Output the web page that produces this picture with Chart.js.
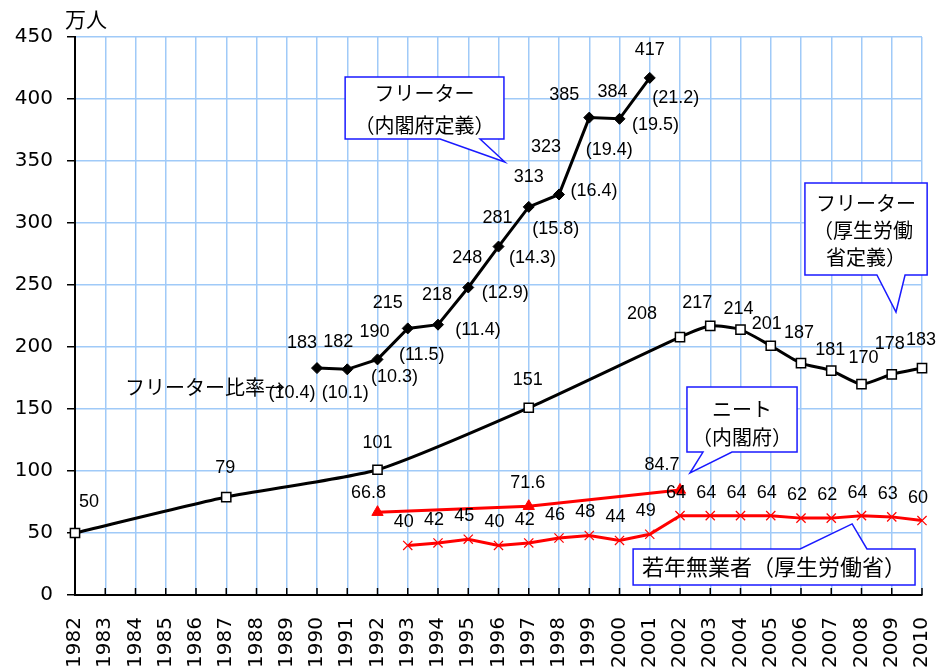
<!DOCTYPE html>
<html><head><meta charset="utf-8">
<script src="https://cdn.jsdelivr.net/npm/chart.js@4.4.0/dist/chart.umd.min.js"></script>
<style>html,body{margin:0;padding:0;background:#fff;}canvas{display:block;}</style>
</head><body>
<canvas id="c" width="946" height="668"></canvas>
<script>
// ---- data ----
const years = ['1982','1983','1984','1985','1986','1987','1988','1989','1990','1991','1992','1993','1994','1995','1996','1997','1998','1999','2000','2001','2002','2003','2004','2005','2006','2007','2008','2009','2010'];
// フリーター（内閣府定義）万人
const freeterCabinet = [null,null,null,null,null,null,null,null,183,182,190,215,218,248,281,313,323,385,384,417,null,null,null,null,null,null,null,null,null];
// フリーター比率 (%)
const freeterRatio = [null,null,null,null,null,null,null,null,10.4,10.1,10.3,11.5,11.4,12.9,14.3,15.8,16.4,19.4,19.5,21.2,null,null,null,null,null,null,null,null,null];
// フリーター（厚生労働省定義）万人
const freeterMHLW = [50,null,null,null,null,79,null,null,null,null,101,null,null,null,null,151,null,null,null,null,208,217,214,201,187,181,170,178,183];
// ニート（内閣府）万人
const neetCabinet = [null,null,null,null,null,null,null,null,null,null,66.8,null,null,null,null,71.6,null,null,null,null,84.7,null,null,null,null,null,null,null,null];
// 若年無業者（厚生労働省）万人
const youthJobless = [null,null,null,null,null,null,null,null,null,null,null,40,42,45,40,42,46,48,44,49,64,64,64,64,62,62,64,63,60];
const yTicks = {min:0, max:450, step:50};

// ---- label placement (pixel offsets from each point) ----
const cabinetValueOffset = {1990:[-15,-25],1991:[-9,-27],1992:[-3,-27],1993:[-20,-25],1994:[-1,-30],1995:[-1,-29],1996:[-1,-29],1997:[0,-30],1998:[-13,-47],1999:[-25,-23],2000:[-7,-27],2001:[0,-28]};
const cabinetRatioOffset = {1990:[-25,25],1991:[-2,24],1992:[17,18],1993:[14,27],1994:[40,5],1995:[37,6],1996:[34,11],1997:[27,22],1998:[35,-3],1999:[20,32],2000:[36,6],2001:[26,20]};
const mhlwOffset = {1982:[14,-31],1987:[-1,-29],1992:[0,-27],1997:[-1,-28],2002:[-38,-23],2003:[-13,-23],2004:[-2,-21],2005:[-4,-22],2006:[-2,-30],2007:[-1,-21],2008:[2,-26],2009:[-2,-30],2010:[-1,-28]};
const neetOffset = {1992:[-9,-19],1997:[-1,-23],2002:[-18,-25]};
const youthOffset = [-4,-23];

const GRID = 'rgb(160,202,248)';
const NUMFONT = '"Liberation Sans", Arial, sans-serif';
const JPFONT = '"Noto Sans CJK JP", sans-serif';

const overlay = {
  id:'overlay',
  afterDatasetsDraw(chart){
    const ctx = chart.ctx, xs = chart.scales.x, ys = chart.scales.y, ca = chart.chartArea;
    const X = v => xs.getPixelForValue(v), Y = v => ys.getPixelForValue(v);
    ctx.save();
    // inside tick marks on x axis
    ctx.strokeStyle = '#000'; ctx.lineWidth = 1.5;
    years.forEach((_, i) => { const x = X(i); ctx.beginPath(); ctx.moveTo(x, ca.bottom - 7); ctx.lineTo(x, ca.bottom); ctx.stroke(); });

    // data labels
    ctx.fillStyle = '#000'; ctx.textAlign = 'center'; ctx.textBaseline = 'middle';
    ctx.font = '18px ' + NUMFONT;
    const put = (vals, posVals, offs, fmt) => {
      vals.forEach((v, i) => {
        if (v == null) return;
        const o = Array.isArray(offs) ? offs : (offs[years[i]] || [0, -25]);
        ctx.fillText(fmt(v), X(i) + o[0], Y(posVals[i]) + o[1]);
      });
    };
    put(freeterCabinet, freeterCabinet, cabinetValueOffset, v => String(v));
    put(freeterRatio, freeterCabinet, cabinetRatioOffset, v => '(' + v.toFixed(1) + ')');
    put(freeterMHLW, freeterMHLW, mhlwOffset, v => String(v));
    put(neetCabinet, neetCabinet, neetOffset, v => v.toFixed(1));
    put(youthJobless, youthJobless, youthOffset, v => String(v));

    // unit label
    ctx.textAlign = 'left';
    ctx.font = '21px ' + JPFONT;
    ctx.fillText('万人', ca.left - 10, ca.top - 18);

    // ratio note
    ctx.font = '20px ' + JPFONT;
    ctx.fillText('フリーター比率→', X(1.65), Y(167.7));

    // callouts (data coordinates: x = category index, y = 万人)
    const callout = (b, ptr, lines, size) => {
      const l = X(b[0]), r = X(b[1]), t = Y(b[2]), btm = Y(b[3]);
      ctx.beginPath();
      if (ptr.side === 'bottom') {
        ctx.moveTo(l, t); ctx.lineTo(r, t); ctx.lineTo(r, btm);
        ctx.lineTo(X(ptr.b2), btm); ctx.lineTo(X(ptr.tip[0]), Y(ptr.tip[1])); ctx.lineTo(X(ptr.b1), btm);
        ctx.lineTo(l, btm); ctx.closePath();
      } else {
        ctx.moveTo(l, t); ctx.lineTo(X(ptr.b1), t); ctx.lineTo(X(ptr.tip[0]), Y(ptr.tip[1])); ctx.lineTo(X(ptr.b2), t);
        ctx.lineTo(r, t); ctx.lineTo(r, btm); ctx.lineTo(l, btm); ctx.closePath();
      }
      ctx.fillStyle = '#fff'; ctx.fill();
      ctx.strokeStyle = '#1a1aff'; ctx.lineWidth = 1.5; ctx.stroke();
      ctx.fillStyle = '#000'; ctx.textAlign = 'center'; ctx.textBaseline = 'middle';
      ctx.font = size + 'px ' + JPFONT;
      lines.forEach(ln => ctx.fillText(ln.t, X(ln.x), Y(ln.y)));
    };
    callout([8.93, 14.18, 417.7, 367.7], {side:'bottom', b1:12.07, b2:13.39, tip:[14.21, 349.2]},
      [{t:'フリーター', x:11.55, y:404.8}, {t:'（内閣府定義）', x:11.55, y:379.0}], 20);
    callout([24.13, 28.17, 332.3, 258.1], {side:'bottom', b1:26.51, b2:27.44, tip:[27.14, 228.2]},
      [{t:'フリーター', x:26.15, y:316.1}, {t:'（厚生労働', x:26.05, y:294.4}, {t:'省定義）', x:26.15, y:272.6}], 20);
    callout([20.23, 23.87, 167.7, 115.3], {side:'bottom', b1:20.76, b2:21.72, tip:[20.33, 98.4]},
      [{t:'ニート', x:22.05, y:150.0}, {t:'（内閣府）', x:22.05, y:127.4}], 20);
    callout([18.45, 27.77, 37.1, 8.1], {side:'top', b1:23.97, b2:26.18, tip:[25.69, 57.3]},
      [{t:'若年無業者（厚生労働省）', x:23.11, y:22.6}], 22);
    ctx.restore();
  }
};

new Chart(document.getElementById('c'), {
  type: 'line',
  data: {
    labels: years,
    datasets: [
      {label:'フリーター（内閣府定義）', data: freeterCabinet, borderColor:'#000', backgroundColor:'#000', borderWidth:3,
       pointStyle:'rectRot', pointRadius:5.5, pointBackgroundColor:'#000', pointBorderColor:'#000', pointBorderWidth:1, tension:0, clip:false},
      {label:'フリーター（厚生労働省定義）', data: freeterMHLW, borderColor:'#000', borderWidth:3, spanGaps:true, tension:0.2,
       pointStyle:'rect', pointRadius:6.5, pointBackgroundColor:'#fff', pointBorderColor:'#000', pointBorderWidth:1.5, clip:false},
      {label:'ニート（内閣府）', data: neetCabinet, borderColor:'#ff0000', borderWidth:3, spanGaps:true, tension:0,
       pointStyle:'triangle', pointRadius:6.5, pointBackgroundColor:'#ff0000', pointBorderColor:'#ff0000', pointBorderWidth:1, clip:false},
      {label:'若年無業者（厚生労働省）', data: youthJobless, borderColor:'#ff0000', borderWidth:3, tension:0,
       pointStyle:'crossRot', pointRadius:6.5, pointBorderColor:'#ff0000', pointBorderWidth:1.2, clip:false}
    ]
  },
  options: {
    responsive:false, animation:false, devicePixelRatio:1,
    layout:{padding:{left:0, right:24, top:37, bottom:0}},
    plugins:{legend:{display:false}, tooltip:{enabled:false}, title:{display:false}},
    elements:{point:{hoverRadius:6}},
    scales:{
      x:{
        grid:{color:GRID, lineWidth:1.5, drawTicks:false},
        border:{color:'#000', width:2},
        ticks:{autoSkip:false, maxRotation:90, minRotation:90, padding:22, color:'#000', font:{family:'DejaVu Sans', size:20}},
        afterFit(s){ s.height = 73; s.paddingLeft = 0; s.paddingRight = 0; }
      },
      y:{
        min:yTicks.min, max:yTicks.max,
        grid:{color:GRID, lineWidth:1.5, tickColor:'#000', tickLength:8, tickWidth:1.5},
        border:{color:'#000', width:2},
        ticks:{stepSize:yTicks.step, padding:14, color:'#000', font:{family:'DejaVu Sans', size:20}},
        afterFit(s){ s.width = 75; s.paddingTop = 0; s.paddingBottom = 0; }
      }
    }
  },
  plugins:[overlay]
});
</script>
</body></html>
